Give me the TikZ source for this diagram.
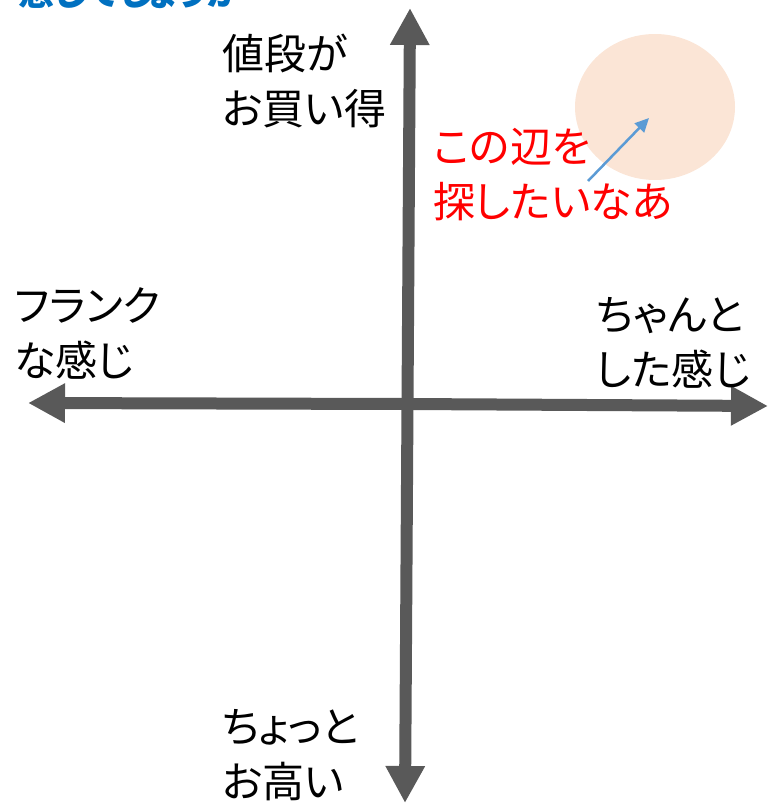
\documentclass[tikz,border=0pt]{standalone}
\usepackage{fontspec}
\setmainfont{Noto Sans CJK JP}[RawFeature=+palt]
\usetikzlibrary{arrows.meta}
\definecolor{axisgray}{HTML}{595959}
\definecolor{peach}{HTML}{FBE5D6}
\definecolor{arrowblue}{HTML}{5B9BD5}
\definecolor{titleblue}{HTML}{0070C0}
\tikzset{
  axis/.style={draw=axisgray, line width=12pt, -{Triangle[length=37pt,width=37pt]}},
  lbl/.style={inner sep=0pt, anchor=west, align=left, font=\fontsize{42}{55}\selectfont},
}
\begin{document}
\begin{tikzpicture}[x=1pt,y=-1pt]
\useasboundingbox (0,0) rectangle (769,805);
\begin{scope}
\clip (0,0) rectangle (769,805);
\node[inner sep=0pt, anchor=base east, text=titleblue, font=\fontsize{36}{40}\selectfont\bfseries] (title) at (242,6) {感じでしょうか};
\end{scope}
\fill[peach] (655,107) ellipse [x radius=80, y radius=73];
\coordinate (ctr) at (407,404);
\coordinate (top) at (410,8);
\coordinate (bot) at (405,803);
\coordinate (lft) at (28,403);
\coordinate (rgt) at (768,406);
\coordinate (vmid) at (407.5,404);
\draw[axis] (vmid) -- (top);
\draw[axis] (vmid) -- (bot);
\draw[axis] (ctr) -- (lft);
\draw[axis] (ctr) -- (rgt);
\node[lbl] (tl) at (222,81) {値段が\\お買い得};
\node[lbl, text=red] (red) at (433,175) {この辺を\\探したいなあ};
\node[lbl] (lf) at (14,333) {フランク\\な感じ};
\node[lbl] (rt) at (596,343) {ちゃんと\\した感じ};
\node[lbl] (bt) at (222,755) {ちょっと\\お高い};
\coordinate (bs) at (588,181);
\coordinate (be) at (649,118);
\draw[arrowblue, line width=2.5pt, -{Triangle[length=14pt,width=13pt]}] (bs) -- (be);
\end{tikzpicture}
\end{document}
